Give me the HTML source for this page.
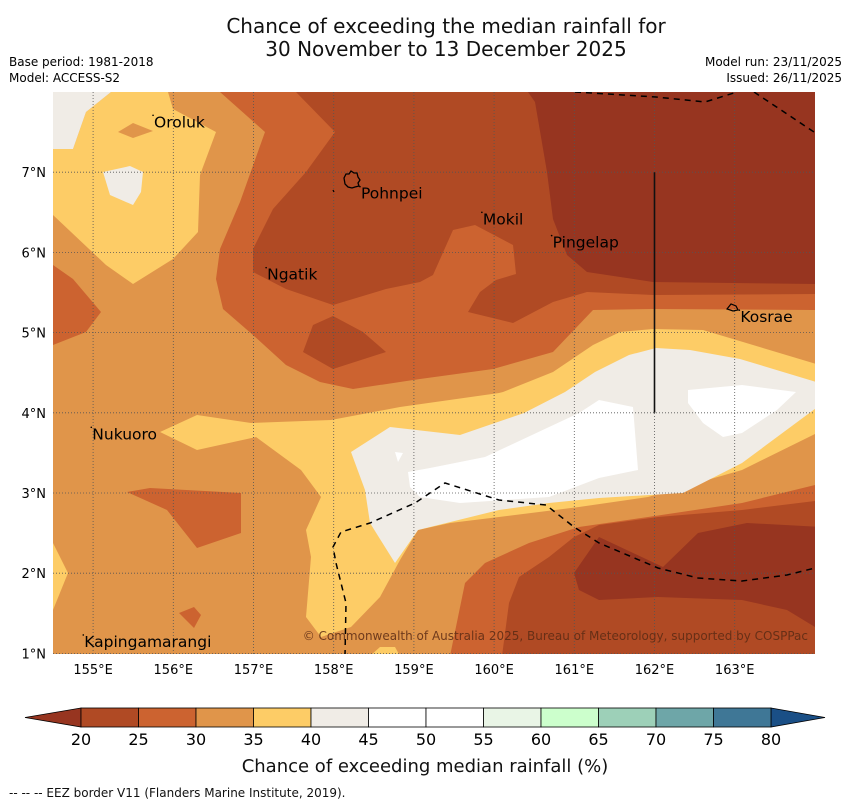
<!DOCTYPE html>
<html><head><meta charset="utf-8"><style>
html,body{margin:0;padding:0;background:#fff;}
body{width:850px;height:804px;overflow:hidden;font-family:"Liberation Sans","DejaVu Sans",sans-serif;}
</style></head><body>
<svg id="chart" width="850" height="804" xmlns="http://www.w3.org/2000/svg" font-family="DejaVu Sans, Liberation Sans, sans-serif">
<text x="446" y="33" font-size="20" text-anchor="middle" fill="#111">Chance of exceeding the median rainfall for</text>
<text x="446" y="56" font-size="20" text-anchor="middle" fill="#111">30 November to 13 December 2025</text>
<text x="9" y="66" font-size="12">Base period: 1981-2018</text>
<text x="9" y="82" font-size="12">Model: ACCESS-S2</text>
<text x="842" y="66" font-size="12" text-anchor="end">Model run: 23/11/2025</text>
<text x="842" y="82" font-size="12" text-anchor="end">Issued: 26/11/2025</text>
<defs><clipPath id="mapclip"><rect x="53" y="92" width="762" height="562"/></clipPath></defs>
<g id="map" clip-path="url(#mapclip)"></g>
<g id="axes"></g>
<g id="cbar"></g>
<text x="425" y="772" font-size="18" text-anchor="middle" fill="#111">Chance of exceeding median rainfall (%)</text>
<text x="9" y="797" font-size="12" fill="#111">--  --  -- EEZ border V11 (Flanders Marine Institute, 2019).</text>
</svg>
<script>
const NS="http://www.w3.org/2000/svg";
// axis data
const lonTicks=[155,156,157,158,159,160,161,162,163];
const latTicks=[1,2,3,4,5,6,7];
const cbarLevels=[20,25,30,35,40,45,50,55,60,65,70,75,80];
const cbarColors=["#b04a24","#cc6330","#e0954a","#fdcc66","#f0ece6","#ffffff","#ffffff","#e9f5e6","#ccffcc","#9dd0b8","#6ea6a8","#3f7796"];
const cbarUnder="#973520", cbarOver="#1a4f86";
const islandNames=["Oroluk","Pohnpei","Mokil","Pingelap","Ngatik","Kosrae","Nukuoro","Kapingamarangi"];
const islandLons=[155.76,158.34,159.86,160.73,157.17,163.07,154.99,154.89];
const islandLats=[7.56,6.67,6.35,6.06,5.66,5.13,3.67,1.08];
const X=lon=>53+(lon-154.5)*80.2;
const Y=lat=>92+(8-lat)*80.2;
// contour fields (pixel-space vertices traced from the model field)
const contours=[
 ["c25","#cc6330",[[220,92],[265,132],[240,202],[220,249],[216,279],[223,309],[253,335],[286,365],[320,382],[353,389],[420,379],[493,369],[553,352],[593,310],[653,309],[815,310],[815,92]]],
 ["c25","#cc6330",[[53,265],[73,279],[101,312],[86,332],[53,345]]],
 ["c25","#cc6330",[[450,656],[465,583],[485,563],[529,543],[579,527],[648,517],[742,503],[823,483],[815,656]]],
 ["c25","#cc6330",[[127,492],[150,488],[241,493],[241,533],[197,548],[167,510]]],
 ["c25","#cc6330",[[179,613],[194,607],[201,615],[194,628]]],
 ["c20","#b04a24",[[296,92],[335,132],[306,172],[273,209],[253,249],[253,272],[286,289],[333,305],[386,289],[420,282],[433,275],[453,230],[475,225],[513,245],[516,274],[496,280],[480,292],[468,312],[513,323],[553,302],[587,292],[653,295],[815,294],[815,92]]],
 ["c20","#b04a24",[[313,325],[333,316],[363,332],[386,352],[333,369],[303,352]]],
 ["c20","#b04a24",[[502,656],[509,603],[519,577],[549,557],[574,537],[599,525],[658,517],[742,510],[823,500],[823,656]]],
 ["c15","#973520",[[528,92],[535,102],[547,172],[553,219],[567,255],[587,272],[653,282],[815,284],[815,92]]],
 ["c15","#973520",[[574,573],[599,537],[663,567],[698,533],[747,523],[823,527],[815,627],[787,610],[742,600],[658,597],[599,600],[579,590]]],
 ["c35","#fdcc66",[[823,430],[742,470],[648,497],[579,507],[499,517],[450,523],[418,530],[400,560],[380,597],[351,627],[321,637],[306,617],[311,557],[306,530],[321,497],[301,470],[256,437],[197,450],[160,432],[197,415],[251,423],[331,420],[400,407],[499,393],[503,392],[553,372],[593,345],[620,332],[653,329],[703,330],[753,345],[823,366]]],
 ["c35","#fdcc66",[[370,656],[380,647],[395,647],[400,656]]],
 ["c35","#fdcc66",[[53,543],[68,573],[53,610]]],
 ["c35","#fdcc66",[[111,92],[168,92],[173,109],[216,132],[200,175],[198,232],[173,259],[133,284],[106,265],[53,215],[53,149],[73,149],[86,112]]],
 ["c30","#e0954a",[[118,132],[133,123],[153,131],[133,138]]],
 ["c40","#f0ece6",[[103,172],[130,166],[143,172],[141,192],[133,205],[110,195]]],
 ["c40","#f0ece6",[[53,92],[111,92],[86,112],[73,149],[53,149]]],
 ["c40","#f0ece6",[[351,452],[390,427],[460,435],[524,413],[565,392],[595,372],[629,355],[656,348],[690,350],[740,359],[823,384],[823,403],[742,463],[683,493],[599,498],[549,503],[499,510],[418,530],[395,563],[370,523],[365,490]]],
 ["c45","#ffffff",[[408,472],[430,468],[485,457],[579,413],[599,400],[633,407],[638,470],[599,478],[549,497],[460,503],[420,497],[410,487]]],
 ["c45","#ffffff",[[688,390],[742,385],[796,392],[777,410],[742,433],[723,437],[703,423],[688,403]]],
 ["c45","#ffffff",[[395,452],[403,453],[398,462]]]
];
const eezLines=[
 [[575,92],[656,97],[705,102],[737,92]],
 [[754,92],[820,136]],
 [[345,656],[346,603],[336,563],[333,547],[341,532],[370,523],[415,503],[445,483],[499,500],[546,505],[574,527],[599,543],[658,568],[698,578],[742,581],[787,575],[823,566]]
];
const map=document.getElementById('map');
const bg=document.createElementNS(NS,'rect');


bg.setAttribute('x',53);bg.setAttribute('y',92);bg.setAttribute('width',762);bg.setAttribute('height',562);bg.setAttribute('fill','#e0954a');
map.appendChild(bg);
contours.forEach(c=>{
 const p=document.createElementNS(NS,'polygon');
 
 
 p.setAttribute('points',c[2].map(v=>v.join(',')).join(' '));
 p.setAttribute('fill',c[1]);
 map.appendChild(p);
});
// grid
lonTicks.forEach(l=>{const ln=document.createElementNS(NS,'line');
 
 
 ln.setAttribute('x1',X(l));ln.setAttribute('x2',X(l));ln.setAttribute('y1',92);ln.setAttribute('y2',654);ln.setAttribute('stroke','#555');ln.setAttribute('stroke-width','0.8');ln.setAttribute('stroke-dasharray','1,2');map.appendChild(ln);});
latTicks.forEach(l=>{const ln=document.createElementNS(NS,'line');
 
 
 ln.setAttribute('y1',Y(l));ln.setAttribute('y2',Y(l));ln.setAttribute('x1',53);ln.setAttribute('x2',815);ln.setAttribute('stroke','#555');ln.setAttribute('stroke-width','0.8');ln.setAttribute('stroke-dasharray','1,2');map.appendChild(ln);});
eezLines.forEach(e=>{const pl=document.createElementNS(NS,'polyline');
 
 
 pl.setAttribute('points',e.map(v=>v.join(',')).join(' '));pl.setAttribute('fill','none');pl.setAttribute('stroke','#000');pl.setAttribute('stroke-width','1.5');pl.setAttribute('stroke-dasharray','6,5');map.appendChild(pl);});
const vl=document.createElementNS(NS,'line');


vl.setAttribute('x1',X(162));vl.setAttribute('x2',X(162));vl.setAttribute('y1',Y(7));vl.setAttribute('y2',Y(4));vl.setAttribute('stroke','#111');vl.setAttribute('stroke-width','1.6');map.appendChild(vl);
islandNames.forEach((n,i)=>{
 const d=document.createElementNS(NS,'circle');
 
 
 d.setAttribute('cx',X(islandLons[i])-1);d.setAttribute('cy',Y(islandLats[i])-12);d.setAttribute('r',0.8);d.setAttribute('fill','#000');map.appendChild(d);
 const t=document.createElementNS(NS,'text');
 
 
 t.setAttribute('x',X(islandLons[i]));t.setAttribute('y',Y(islandLats[i]));t.setAttribute('font-size','15.5');t.setAttribute('fill','#000');t.textContent=n;map.appendChild(t);
});
const pk=document.createElementNS(NS,'path');


pk.setAttribute('d','M344,178 l2,-4 l3,0 l2,-3 l3,2 l3,0 l1,4 l2,3 l-2,3 l1,3 l-4,1 l-3,1 l-4,-1 l-3,-3 z M333,190 l1,2');pk.setAttribute('fill','none');pk.setAttribute('stroke','#000');pk.setAttribute('stroke-width','1.3');map.appendChild(pk);
const ks=document.createElementNS(NS,'path');


ks.setAttribute('d','M727,309 l4,-5 l5,2 l2,4 l-5,1 z');ks.setAttribute('fill','none');ks.setAttribute('stroke','#000');ks.setAttribute('stroke-width','1.2');map.appendChild(ks);
const cp=document.createElementNS(NS,'text');


cp.setAttribute('x',808);cp.setAttribute('y',640);cp.setAttribute('font-size','12');cp.setAttribute('text-anchor','end');cp.setAttribute('fill','#5a2a14');cp.setAttribute('fill-opacity','0.85');
cp.textContent='© Commonwealth of Australia 2025, Bureau of Meteorology, supported by COSPPac';map.appendChild(cp);
// axis labels
const axes=document.getElementById('axes');
lonTicks.forEach(l=>{const t=document.createElementNS(NS,'text');
 
 
 t.setAttribute('x',X(l));t.setAttribute('y',674);t.setAttribute('font-size','13');t.setAttribute('text-anchor','middle');t.textContent=l+'°E';axes.appendChild(t);});
latTicks.forEach(l=>{const t=document.createElementNS(NS,'text');
 
 
 t.setAttribute('x',46);t.setAttribute('y',Y(l)+5);t.setAttribute('font-size','13');t.setAttribute('text-anchor','end');t.textContent=l+'°N';axes.appendChild(t);});
// colorbar
const cb=document.getElementById('cbar');
const cx0=81,cx1=771,cy=708,ch=19;
const CX=v=>cx0+(v-cbarLevels[0])/(cbarLevels[cbarLevels.length-1]-cbarLevels[0])*(cx1-cx0);
const under=document.createElementNS(NS,'polygon');


under.setAttribute('points',`${cx0},${cy} 25,${cy+ch/2} ${cx0},${cy+ch}`);under.setAttribute('fill',cbarUnder);under.setAttribute('stroke','#000');under.setAttribute('stroke-width','0.8');cb.appendChild(under);
const over=document.createElementNS(NS,'polygon');


over.setAttribute('points',`${cx1},${cy} 825,${cy+ch/2} ${cx1},${cy+ch}`);over.setAttribute('fill',cbarOver);over.setAttribute('stroke','#000');over.setAttribute('stroke-width','0.8');cb.appendChild(over);
cbarColors.forEach((c,i)=>{const r=document.createElementNS(NS,'rect');
 
 
 r.setAttribute('x',CX(cbarLevels[i]));r.setAttribute('y',cy);r.setAttribute('width',CX(cbarLevels[i+1])-CX(cbarLevels[i]));r.setAttribute('height',ch);r.setAttribute('fill',c);r.setAttribute('stroke','#000');r.setAttribute('stroke-width','0.8');cb.appendChild(r);});
cbarLevels.forEach(v=>{const t=document.createElementNS(NS,'text');
 
 
 t.setAttribute('x',CX(v));t.setAttribute('y',745);t.setAttribute('font-size','16');t.setAttribute('text-anchor','middle');t.textContent=v;cb.appendChild(t);});
</script>
</body></html>
